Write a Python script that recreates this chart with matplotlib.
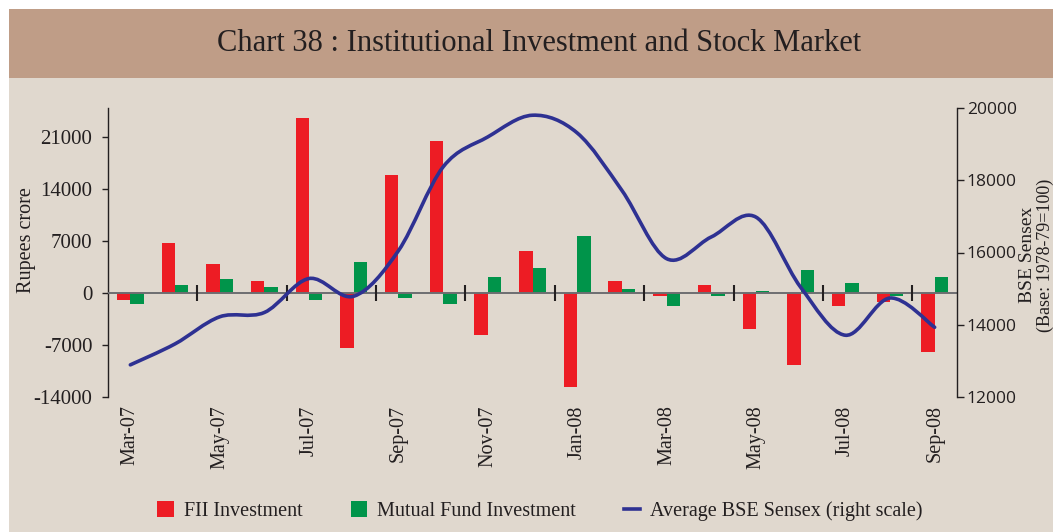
import numpy as np
import matplotlib
matplotlib.use("Agg")
import matplotlib.pyplot as plt
from matplotlib.path import Path
from matplotlib.patches import PathPatch, Rectangle, Patch
from matplotlib.lines import Line2D

# ---------------- data ----------------
months = ["Mar-07", "Apr-07", "May-07", "Jun-07", "Jul-07", "Aug-07", "Sep-07",
          "Oct-07", "Nov-07", "Dec-07", "Jan-08", "Feb-08", "Mar-08", "Apr-08",
          "May-08", "Jun-08", "Jul-08", "Aug-08", "Sep-08"]
fii = [-950, 6700, 3900, 1600, 23500, -7400, 15900, 20400, -5700, 5650,
       -12700, 1600, -350, 1050, -4800, -9700, -1700, -1150, -7950]
mf = [-1450, 1100, 1900, 800, -1000, 4200, -700, -1450, 2100, 3350,
      7650, 500, -1700, -350, 250, 3100, 1350, -350, 2150]
sensex = [12890, 13470, 14220, 14340, 15280, 14790, 16050, 18370, 19200, 19800,
          19310, 17720, 15830, 16430, 16980, 15040, 13710, 14740, 13930]
left_ticks = [-14000, -7000, 0, 7000, 14000, 21000]
right_ticks = [12000, 14000, 16000, 18000, 20000]
title = "Chart 38 : Institutional Investment and Stock Market"
legend_labels = ["FII Investment", "Mutual Fund Investment",
                 "Average BSE Sensex (right scale)"]

# ---------------- style ----------------
BG = "#e0d8ce"
BAND = "#bf9d87"
RED = "#ed1c24"
GREEN = "#00944a"
BLUE = "#2e3192"
TXT = "#231f20"
SERIF = "Liberation Serif"
SANS = "Open Sans"

W, H = 1053, 532
fig = plt.figure(figsize=(W / 100, H / 100), dpi=100, facecolor="white")

fig.patches.append(Rectangle((9 / W, 0), 1 - 9 / W, 1 - 78 / H,
                             transform=fig.transFigure, facecolor=BG,
                             edgecolor="none", zorder=-10))
fig.patches.append(Rectangle((9 / W, 1 - 78 / H), 1 - 9 / W, (78 - 9) / H,
                             transform=fig.transFigure, facecolor=BAND,
                             edgecolor="none", zorder=-10))
fig.text(539 / W, 1 - 44 / H, title, ha="center", va="center",
         fontsize=22, family=SERIF, color=TXT)

ax = fig.add_axes([108 / W, 1 - 397 / H, (957 - 108) / W, (397 - 108) / H])
ax.set_facecolor("none")
ax2 = ax.twinx()

n = len(months)
x = np.arange(n)
bw = 0.30
ax.bar(x - bw / 2, fii, bw, color=RED, zorder=2)
ax.bar(x + bw / 2, mf, bw, color=GREEN, zorder=2)
ax.axhline(0, color="#6d6e71", lw=1.4, zorder=3)
ax.vlines(np.arange(1.5, n - 1, 2), -1100, 1100, color=TXT, lw=1.5, zorder=4)

ax.set_xlim(-0.5, n - 0.5)
ax.set_ylim(-14000, 24900)
ax.set_yticks(left_ticks)
ax.set_yticklabels([str(v) for v in left_ticks], family=SERIF, fontsize=15, color=TXT)
ax.set_xticks(x[::2])
ax.set_xticklabels(months[::2], rotation=90, family=SERIF, fontsize=14.5, color=TXT)
ax.tick_params(axis="x", length=0, pad=6)
ax.tick_params(axis="y", length=4.3, width=1, direction="out", pad=7, color=TXT)
for s in ["top", "right", "bottom"]:
    ax.spines[s].set_visible(False)
ax.spines["left"].set_color(TXT)
ax.spines["left"].set_linewidth(1.0)

# smoothed sensex line (Bezier through monthly points)
P = np.column_stack([x, sensex]).astype(float)
Pext = np.vstack([P[0], P, P[-1]])
verts = [P[0]]
codes = [Path.MOVETO]
for i in range(n - 1):
    p0, p1, p2, p3 = Pext[i], Pext[i + 1], Pext[i + 2], Pext[i + 3]
    c1 = p1 + (p2 - p0) / 6.0
    c2 = p2 - (p3 - p1) / 6.0
    verts += [c1, c2, p2]
    codes += [Path.CURVE4] * 3
ax2.add_patch(PathPatch(Path(verts, codes), facecolor="none", edgecolor=BLUE,
                        lw=2.6, capstyle="round", joinstyle="round", zorder=5))
ax2.set_ylim(12000, 20000)
ax2.set_yticks(right_ticks)
ax2.set_yticklabels([str(v) for v in right_ticks], family=SANS, fontsize=12.5, color=TXT)
ax2.tick_params(axis="y", length=5, width=1, direction="out", pad=2, color=TXT)
for s in ["top", "left", "bottom"]:
    ax2.spines[s].set_visible(False)
ax2.spines["right"].set_color(TXT)
ax2.spines["right"].set_linewidth(1.0)

fig.text(27 / W, 1 - 240 / H, "Rupees crore", rotation=90, ha="center",
         va="center", fontsize=14.5, family=SERIF, color=TXT)
fig.text(1028 / W, 1 - 255 / H, "BSE Sensex", rotation=90, ha="center",
         va="center", fontsize=14, family=SERIF, color=TXT)
fig.text(1045 / W, 1 - 255 / H, "(Base: 1978-79=100)", rotation=90, ha="center",
         va="center", fontsize=13, family=SERIF, color=TXT)

handles = [Patch(facecolor=RED, edgecolor="none"),
           Patch(facecolor=GREEN, edgecolor="none"),
           Line2D([], [], color=BLUE, lw=2.6)]
fig.legend(handles, legend_labels, loc="center", bbox_to_anchor=(540 / W, 1 - 511 / H),
           ncol=3, frameon=False, prop={"family": SERIF, "size": 14.5},
           handlelength=0.8, handleheight=0.8, handletextpad=0.5,
           columnspacing=2.4, labelcolor=TXT)

fig.savefig("out.png", dpi=100, facecolor="white")
